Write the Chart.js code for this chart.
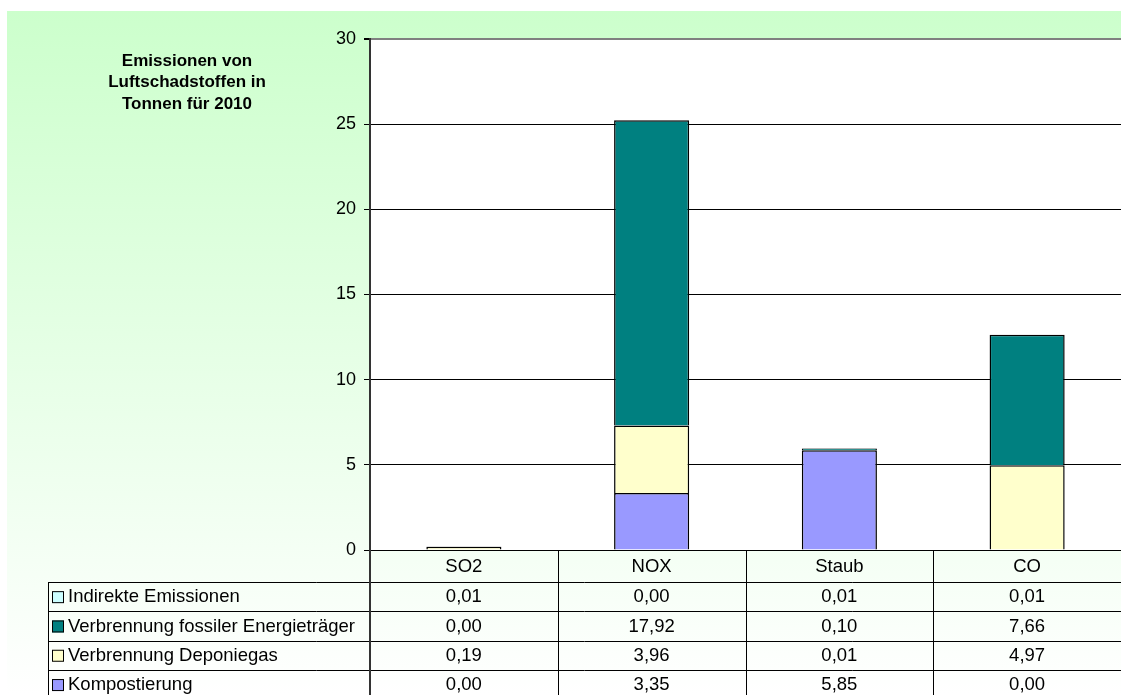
<!DOCTYPE html>
<html><head><meta charset="utf-8">
<script src="https://cdn.jsdelivr.net/npm/chart.js@4/dist/chart.umd.min.js"></script>
<style>html,body{margin:0;padding:0;background:#fff;overflow:hidden}#wrap{width:1121px;height:695px;position:relative}</style>
</head><body><div id="wrap"><canvas id="c" width="1121" height="695"></canvas></div>
<script>
const categories = ['SO2', 'NOX', 'Staub', 'CO'];
const kompostierung = [0.00, 3.35, 5.85, 0.00];
const deponiegas = [0.19, 3.96, 0.01, 4.97];
const fossil = [0.00, 17.92, 0.10, 7.66];
const indirekt = [0.01, 0.00, 0.01, 0.01];
const seriesNames = ['Kompostierung', 'Verbrennung Deponiegas', 'Verbrennung fossiler Energieträger', 'Indirekte Emissionen'];
const yTickMax = 30;
const yTickStep = 5;
const titleLines = ['Emissionen von', 'Luftschadstoffen in', 'Tonnen für 2010'];

const FONT = '"Liberation Sans", Arial, sans-serif';

const bgPlugin = {
  id: 'bg',
  beforeDraw(chart) {
    const ctx = chart.ctx, W = chart.width, H = chart.height, a = chart.chartArea;
    ctx.save();
    ctx.fillStyle = '#ffffff';
    ctx.fillRect(0, 0, W, H);
    const g = ctx.createLinearGradient(0, 11, 0, H);
    g.addColorStop(0, '#ccffcc');
    g.addColorStop(1, '#ffffff');
    ctx.fillStyle = g;
    ctx.fillRect(7, 11, W - 7, H - 11);
    ctx.fillStyle = '#ffffff';
    ctx.fillRect(a.left, a.top, a.right - a.left, a.bottom - a.top);
    ctx.restore();
  },
  afterDraw(chart) {
    const ctx = chart.ctx, a = chart.chartArea, xs = chart.scales.x, H = chart.height;
    ctx.save();
    // title
    ctx.fillStyle = '#000';
    ctx.font = 'bold 17px ' + FONT;
    ctx.textAlign = 'center';
    ctx.textBaseline = 'middle';
    titleLines.forEach((t, i) => ctx.fillText(t, 187, 61 + i * 21.7));

    // table
    const n = categories.length;
    const colW = (xs.right - xs.left) / n;
    const headTop = a.bottom, headH = 32, rowH = 29.3;
    const tableLeft = 48;
    ctx.strokeStyle = '#000';
    ctx.lineWidth = 1;
    const ds = chart.data.datasets;
    const rows = ds.slice().reverse();
    for (let r = 0; r <= rows.length; r++) {
      const y = Math.round(headTop + headH + r * rowH) + 0.5;
      ctx.beginPath(); ctx.moveTo(tableLeft, y); ctx.lineTo(chart.width, y); ctx.stroke();
    }
    ctx.beginPath(); ctx.moveTo(tableLeft + 0.5, headTop + headH); ctx.lineTo(tableLeft + 0.5, H); ctx.stroke();
    for (let i = 1; i < n; i++) {
      const x = Math.round(xs.getPixelForValue(i) - colW / 2) + 0.5;
      ctx.beginPath(); ctx.moveTo(x, headTop); ctx.lineTo(x, H); ctx.stroke();
    }
    ctx.strokeStyle = '#333';
    ctx.lineWidth = 2;
    ctx.beginPath(); ctx.moveTo(a.left, headTop); ctx.lineTo(a.left, H); ctx.stroke();

    ctx.font = '18.5px ' + FONT;
    ctx.fillStyle = '#000';
    ctx.textAlign = 'center';
    ctx.textBaseline = 'middle';
    categories.forEach((c, i) => ctx.fillText(c, xs.getPixelForValue(i), headTop + 16.5));
    rows.forEach((d, r) => {
      const yc = headTop + headH + r * rowH + rowH / 2 + 0.5;
      ctx.fillStyle = d.backgroundColor;
      ctx.fillRect(52, yc - 6, 12, 12);
      ctx.strokeStyle = '#000'; ctx.lineWidth = 1;
      ctx.strokeRect(52.5, yc - 5.5, 11, 11);
      ctx.fillStyle = '#000';
      ctx.textAlign = 'left';
      ctx.fillText(d.label, 68, yc);
      ctx.textAlign = 'center';
      d.data.forEach((v, i) => {
        ctx.fillText(v.toFixed(2).replace('.', ','), xs.getPixelForValue(i), yc);
      });
    });
    ctx.restore();
  }
};

const colors = ['#9999ff', '#ffffcc', '#008080', '#ccffff'];
const values = [kompostierung, deponiegas, fossil, indirekt];

new Chart(document.getElementById('c'), {
  type: 'bar',
  data: {
    labels: categories,
    datasets: seriesNames.map((name, i) => ({
      label: name,
      data: values[i],
      backgroundColor: colors[i],
      borderColor: '#000',
      borderWidth: 1.5,
      barPercentage: 0.4,
      categoryPercentage: 1.0
    }))
  },
  options: {
    responsive: false,
    animation: false,
    devicePixelRatio: 1,
    layout: { padding: { top: 39, right: 0, left: 0, bottom: 0 } },
    plugins: { legend: { display: false }, title: { display: false }, tooltip: { enabled: false } },
    scales: {
      x: {
        stacked: true,
        grid: { display: false },
        border: { display: true, color: '#000', width: 1 },
        ticks: { display: false },
        afterFit(s) { s.height = 145; }
      },
      y: {
        stacked: true,
        min: 0, max: yTickMax,
        ticks: { stepSize: yTickStep, color: '#000', font: { size: 18, family: FONT }, padding: 8 },
        grid: {
          color: c => (c.tick && c.tick.value === yTickMax) ? '#808080' : '#000',
          lineWidth: c => (c.tick && c.tick.value === yTickMax) ? 2 : 1,
          tickLength: 6,
          tickColor: '#000'
        },
        border: { display: true, color: '#333', width: 2 },
        afterFit(s) { s.width = 370; }
      }
    }
  },
  plugins: [bgPlugin]
});
</script>
</body></html>
